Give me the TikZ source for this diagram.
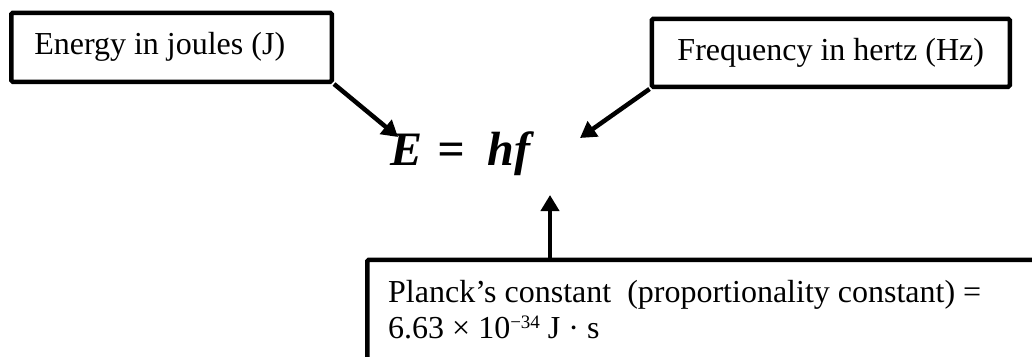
\documentclass[tikz,border=0pt]{standalone}
\usepackage{fontspec}
\setmainfont{Liberation Serif}
\usetikzlibrary{arrows.meta,calc}
\begin{document}
\begin{tikzpicture}[x=1pt,y=-1pt,
  lbl/.style={draw, line width=4.5pt, rounded corners=1.5pt, inner sep=0pt,
              font=\fontsize{32}{38}\selectfont},
  txt/.style={inner sep=0pt, font=\fontsize{32}{36}\selectfont},
  arr/.style={line width=4.5pt, -{Triangle[length=16pt,width=18pt]}}]
\useasboundingbox (0,0) rectangle (1032,356);
\clip (0,0) rectangle (1032,356);
% boxes
\node[lbl, anchor=north west, minimum width=320.5pt, minimum height=69pt,
      text width=274.5pt] (energy) at (9,10.5)
      {\spaceskip=0pt\xspaceskip=0pt Energy in joules (J)};
\node[lbl, anchor=north west, minimum width=358pt, minimum height=68pt]
      (freq) at (649.5,16.5) {Frequency in hertz (Hz)};
\node[lbl, anchor=north west, minimum width=690pt, minimum height=120pt]
      (pbox) at (365,257.5) {};
\node[txt, anchor=base west, align=left] (planck) at (388,338)
  {\spaceskip=0pt\xspaceskip=0pt Planck’s constant\ \ (proportionality constant) =\\
   \spaceskip=0pt\xspaceskip=0pt 6.63 × 10\raisebox{10pt}{\fontsize{19}{19}\selectfont −34} J · s};
% equation
\node[inner sep=0pt, anchor=base west, font=\fontsize{48}{48}\selectfont\bfseries\itshape]
  (eq) at (390,165) {E\hspace{15pt}=\hspace{23pt}hf};
% arrow tips
\coordinate (e1) at (398,137);
\coordinate (e2) at (580,138);
\coordinate (e3) at (550,195);
\draw[arr] (energy.south east) -- (e1);
\draw[arr] (freq.south west) -- (e2);
\draw[arr] (e3 |- pbox.north) -- (e3);
\end{tikzpicture}
\end{document}
